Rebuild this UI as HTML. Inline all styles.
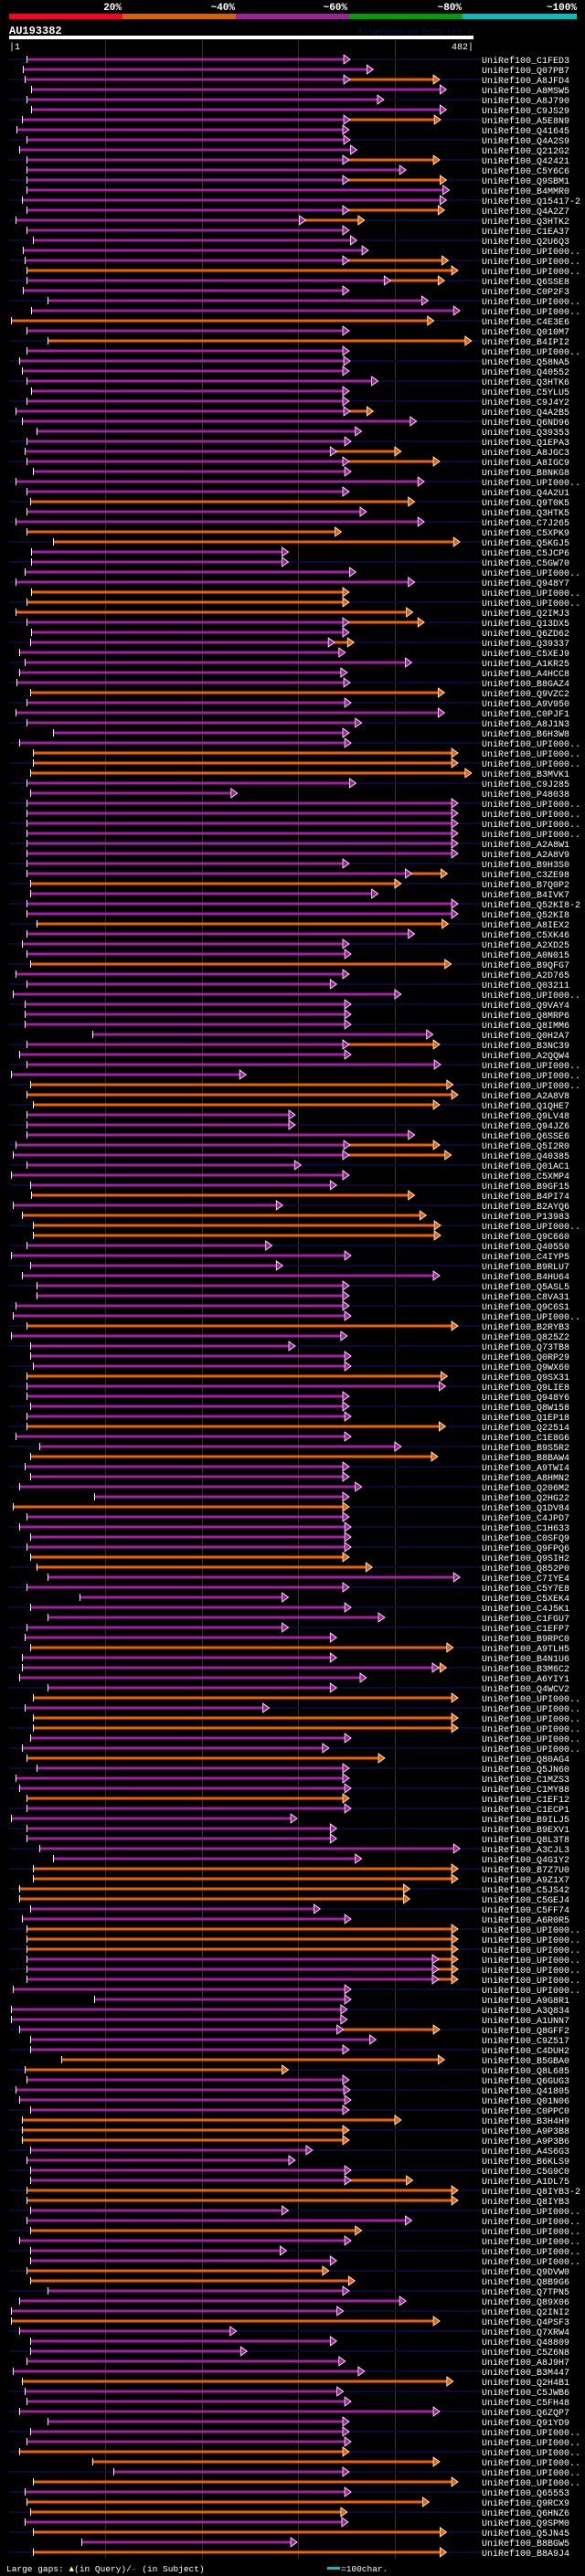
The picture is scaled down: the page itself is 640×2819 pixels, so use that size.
<!DOCTYPE html>
<html><head><meta charset="utf-8"><title>AU193382 alignment view</title>
<style>
html,body{margin:0;padding:0;background:#000;}
body{width:640px;height:2819px;overflow:hidden;font-family:"Liberation Mono",monospace;}
svg{display:block;}
</style></head>
<body>
<svg id="chart" width="640" height="2819" viewBox="0 0 640 2819" xmlns="http://www.w3.org/2000/svg">
<rect x="0" y="0" width="640" height="2819" fill="#000"/>
<g font-family="Liberation Mono, monospace" font-weight="bold" font-size="11" fill="#fff">
<text x="133" y="11" text-anchor="end">20%</text>
<text x="257" y="11" text-anchor="end">~40%</text>
<text x="380" y="11" text-anchor="end">~60%</text>
<text x="505" y="11" text-anchor="end">~80%</text>
<text x="631" y="11" text-anchor="end">~100%</text>
</g>
<rect x="10" y="15" width="124" height="6" fill="#ff0020"/>
<rect x="134" y="15" width="124" height="6" fill="#e06000"/>
<rect x="258" y="15" width="124" height="6" fill="#a020a0"/>
<rect x="382" y="15" width="124" height="6" fill="#00a000"/>
<rect x="506" y="15" width="125" height="6" fill="#00c0c0"/>
<text x="10" y="37" font-family="Liberation Mono, monospace" font-weight="bold" font-size="12" fill="#fff">AU193382</text>
<text x="516" y="37" text-anchor="end" font-family="Liberation Mono, monospace" font-weight="bold" font-size="9" fill="#0a0a3a">AlignView.pm Beta rel.7</text>
<rect x="10" y="39" width="508" height="4" fill="#fff"/>
<text x="10" y="54" font-family="Liberation Mono, monospace" font-size="10" fill="#fff">|1</text>
<text x="518" y="54" text-anchor="end" font-family="Liberation Mono, monospace" font-size="10" fill="#fff">482|</text>
<g id="grid"></g>
<g id="rows"></g>
<g font-family="Liberation Mono, monospace" font-size="9.5" fill="#fff">
<text x="7" y="2814">Large gaps: <tspan fill="#ffff80">▲</tspan>(in Query)/<tspan fill="#00c0c0">–</tspan> (in Subject)</text>
<rect x="358" y="2809" width="14" height="3" fill="#00c0c0"/>
<text x="373" y="2814">=100char.</text>
</g>
</svg>
<script>
const subjects = ["C1FED3","Q07PB7","A8JFD4","A8MSW5","A8J790","C9JS29","A5E8N9","Q41645","Q4A2S9","Q212G2",
"Q42421","C5Y6C6","Q9SBM1","B4MMR0","Q15417-2","Q4A2Z7","Q3HTK2","C1EA37","Q2U6Q3","UPI000..",
"UPI000..","UPI000..","Q6SSE8","C0P2F3","UPI000..","UPI000..","C4E3E6","Q010M7","B4IPI2","UPI000..",
"Q58NA5","Q40552","Q3HTK6","C5YLU5","C9J4Y2","Q4A2B5","Q6ND96","Q39353","Q1EPA3","A8JGC3",
"A8IGC9","B8NKG8","UPI000..","Q4A2U1","Q9T0K5","Q3HTK5","C7J265","C5XPK9","Q5KGJ5","C5JCP6",
"C5GW70","UPI000..","Q948Y7","UPI000..","UPI000..","Q2IMJ3","Q13DX5","Q6ZD62","Q39337","C5XEJ9",
"A1KR25","A4HCC8","B8GAZ4","Q9VZC2","A9V950","C0PJF1","A8J1N3","B6H3W8","UPI000..","UPI000..",
"UPI000..","B3MVK1","C9J285","P48038","UPI000..","UPI000..","UPI000..","UPI000..","A2A8W1","A2A8V9",
"B9H3S0","C3ZE98","B7Q0P2","B4IVK7","Q52KI8-2","Q52KI8","A8IEX2","C5XK46","A2XD25","A0N015",
"B9QFG7","A2D765","Q03211","UPI000..","Q9VAY4","Q8MRP6","Q8IMM6","Q0H2A7","B3NC39","A2QQW4",
"UPI000..","UPI000..","UPI000..","A2A8V8","Q1QHE7","Q9LV48","Q94JZ6","Q6SSE6","Q5I2R0","Q40385",
"Q01AC1","C5XMP4","B9GF15","B4PI74","B2AYQ6","P13983","UPI000..","Q9C660","Q40550","C4IYP5",
"B9RLU7","B4HU64","Q5ASL5","C8VA31","Q9C6S1","UPI000..","B2RYB3","Q825Z2","Q73TB8","Q0RP29",
"Q9WX60","Q9SX31","Q9LIE8","Q948Y6","Q8W158","Q1EP18","Q22514","C1E8G6","B9S5R2","B8BAW4",
"A9TWI4","A8HMN2","Q206M2","Q2HG22","Q1DV84","C4JPD7","C1H633","C0SFQ9","Q9FPQ6","Q9SIH2",
"Q852P0","C7IYE4","C5Y7E8","C5XEK4","C4J5K1","C1FGU7","C1EFP7","B9RPC0","A9TLH5","B4N1U6",
"B3M6C2","A6YIY1","Q4WCV2","UPI000..","UPI000..","UPI000..","UPI000..","UPI000..","UPI000..","Q80AG4",
"Q5JN60","C1MZS3","C1MY88","C1EF12","C1ECP1","B9ILJ5","B9EXV1","Q8L3T8","A3CJL3","Q4G1Y2",
"B7Z7U0","A9Z1X7","C5JS42","C5GEJ4","C5FF74","A6R0R5","UPI000..","UPI000..","UPI000..","UPI000..",
"UPI000..","UPI000..","UPI000..","A9G8R1","A3Q834","A1UNN7","Q8GFF2","C9Z517","C4DUH2","B5GBA0",
"Q8L685","Q6GUG3","Q41805","Q01N06","C0PPC0","B3H4H9","A9P3B8","A9P3B6","A4S6G3","B6KLS9",
"C5G9C0","A1DL75","Q8IYB3-2","Q8IYB3","UPI000..","UPI000..","UPI000..","UPI000..","UPI000..","UPI000..",
"Q9DVW0","Q8B9G6","Q7TPN5","Q89X06","Q2INI2","Q4PSF3","Q7XRW4","Q48809","C5Z6N8","A8J9H7",
"B3M447","Q2H4B1","C5JWB6","C5FH48","Q6ZQP7","Q91YD9","UPI000..","UPI000..","UPI000..","UPI000..",
"UPI000..","UPI000..","Q65553","Q9RCX9","Q6HNZ6","Q9SPM0","Q5JN45","B8BGW5","B8A9J4"];
const alnStart = [18,14,16,23,18,23,13,8,18,10, 18,18,18,18,13,18,7,18,25,14, 16,18,18,14,40,23,2,18,40,18,
10,13,18,23,18,7,13,28,18,16, 18,25,7,18,22,18,7,18,46,23, 23,16,7,23,18,7,18,23,22,10,
16,10,8,22,18,7,18,46,10,25, 25,22,18,22,18,18,18,18,18,18, 18,18,22,22,18,18,28,18,13,18,
22,7,18,4,16,16,16,86,18,10, 18,2,22,18,25,18,18,18,7,4, 18,2,22,23,4,13,25,25,18,2,
22,13,28,28,7,4,18,2,22,22, 25,18,18,18,22,18,18,7,31,22, 16,22,10,88,4,18,10,22,18,22,
28,40,18,73,22,40,18,16,22,13, 13,10,40,25,16,25,25,22,13,18, 28,7,10,18,18,2,18,18,31,46,
25,25,10,10,22,13,18,18,18,18, 18,18,4,88,2,2,10,22,22,54, 16,18,7,10,22,13,13,13,22,18,
22,22,18,18,22,18,22,10,22,22, 18,22,40,10,2,2,10,22,22,18, 4,13,16,18,10,40,22,18,10,86,
108,25,16,18,22,16,25,75,25];
const alnEnd = [353,377,353,453,388,453,353,352,353,360, 352,411,352,456,453,352,307,352,360,372, 352,465,395,352,434,467,440,352,479,352,
353,352,382,352,352,353,422,365,354,339, 352,354,430,352,420,370,430,344,467,289, 289,359,420,352,352,418,352,352,337,348,
417,350,353,451,354,451,365,352,354,465, 465,479,359,236,465,465,465,465,465,465, 352,417,406,382,465,465,455,420,352,354,
458,352,339,406,354,354,354,439,352,354, 447,245,460,465,446,296,296,420,353,352, 302,352,339,420,283,432,447,447,272,354,
283,446,352,352,352,354,465,350,296,354, 354,454,452,352,352,354,452,354,406,444, 352,352,365,352,352,352,354,354,354,352,
376,467,352,289,354,389,289,339,460,339, 445,370,339,465,269,465,465,354,331,389, 352,352,354,352,354,298,339,339,467,365,
465,465,415,415,322,354,465,465,465,445, 445,445,354,354,350,350,346,380,352,451, 289,352,353,354,352,406,352,352,314,296,
354,354,465,465,289,417,365,354,287,339, 331,358,352,411,346,446,235,339,246,348, 368,460,346,354,446,352,352,354,352,446,
352,465,354,435,350,351,453,298,453];
const alnColor = ["p","p","p","p","p","p","p","p","p","p", "p","p","p","p","p","p","p","p","p","p", "p","o","p","p","p","p","o","p","o","p",
"p","p","p","p","p","p","p","p","p","p", "p","p","p","p","o","p","p","o","o","p", "p","p","p","o","o","o","p","p","p","p",
"p","p","p","o","p","p","p","p","p","o", "o","o","p","p","p","p","p","p","p","p", "p","p","o","p","p","p","o","p","p","p",
"o","p","p","p","p","p","p","p","p","p", "p","p","o","o","o","p","p","p","p","p", "p","p","p","o","p","o","o","o","p","p",
"p","p","p","p","p","p","o","p","p","p", "p","o","p","p","p","p","o","p","p","o", "p","p","p","p","o","p","p","p","p","o",
"o","p","p","p","p","p","p","p","o","p", "p","p","p","o","p","o","o","p","p","o", "p","p","p","o","p","p","p","p","p","p",
"o","o","o","o","p","p","o","o","o","p", "p","p","p","p","p","p","p","p","p","o", "o","p","p","p","p","o","o","o","p","p",
"p","p","o","o","p","p","o","p","p","p", "o","o","p","p","p","o","p","p","p","p", "p","o","p","p","p","p","p","p","o","o",
"p","o","p","o","o","p","o","p","o"];
const extEnd = {2:446,6:447,10:446,12:453,15:451,16:368,20:455,22:451,35:377,39:406,40:446,56:430,58:357,
81:454,98:446,108:446,109:458,160:453,189:465,190:465,191:465,196:446,211:418};

const svgNS = "http://www.w3.org/2000/svg";
const QLEN = 482;
function xScale(c){ return 10 + c * (508 / QLEN); }
function yRow(i){ return 65 + 11 * i; }
const COLORS = {p:"#a31fa3", o:"#f06000"};

const grid = document.getElementById("grid");
[100,200,300,400].forEach(function(c){
  const l = document.createElementNS(svgNS,"line");
  
  
  const x = Math.round(xScale(c)) + 0.5;
  l.setAttribute("x1", x); l.setAttribute("x2", x);
  l.setAttribute("y1", 44); l.setAttribute("y2", 2800);
  l.setAttribute("stroke", "#34340e"); l.setAttribute("stroke-width", "1");
  grid.appendChild(l);
});

const rowsG = document.getElementById("rows");
function mk(tag, attrs){ const e = document.createElementNS(svgNS, tag); for (const k in attrs) e.setAttribute(k, attrs[k]); return e; }
function arrow(g, xEnd, y, color){
  const p = mk("polygon", {points:(xEnd-6)+","+(y-5)+" "+(xEnd+1)+","+y+" "+(xEnd-6)+","+(y+5), fill:color, stroke:"#fff", "stroke-width":"0.8"});
  
  
  g.appendChild(p);
}
for (let i = 0; i < subjects.length; i++){
  const y = yRow(i);
  const g = mk("g", {});
  
  
  if (i % 2 === 0){
    const bg = mk("rect", {x:10, y:y-1, width:517, height:2, fill:"#0a0a34"});
    
    
    g.appendChild(bg);
  }
  const x0 = xScale(alnStart[i]), x1 = xScale(alnEnd[i]);
  const col = COLORS[alnColor[i]];
  const bar = mk("rect", {x:x0, y:y-1.5, width:Math.max(0, x1-x0-5), height:3, fill:col});
  
  
  g.appendChild(bar);
  if (extEnd[i] !== undefined){
    const x2 = xScale(extEnd[i]);
    const ext = mk("rect", {x:x1-5, y:y-1.5, width:Math.max(0, x2-x1), height:3, fill:COLORS.o});
    
    
    g.appendChild(ext);
    arrow(g, x1, y, col);
    arrow(g, x2, y, COLORS.o);
  } else {
    arrow(g, x1, y, col);
  }
  const tick = mk("rect", {x:Math.round(x0), y:y-4, width:1, height:8, fill:"#fff"});
  
  
  g.appendChild(tick);
  const t = mk("text", {x:527, y:y+4, "font-family":"Liberation Mono, monospace", "font-size":"10", fill:"#fff", textLength:(10+subjects[i].length)*6, lengthAdjust:"spacingAndGlyphs"});
  t.textContent = "UniRef100_" + subjects[i];
  
  
  g.appendChild(t);
  rowsG.appendChild(g);
}
</script>
</body></html>
